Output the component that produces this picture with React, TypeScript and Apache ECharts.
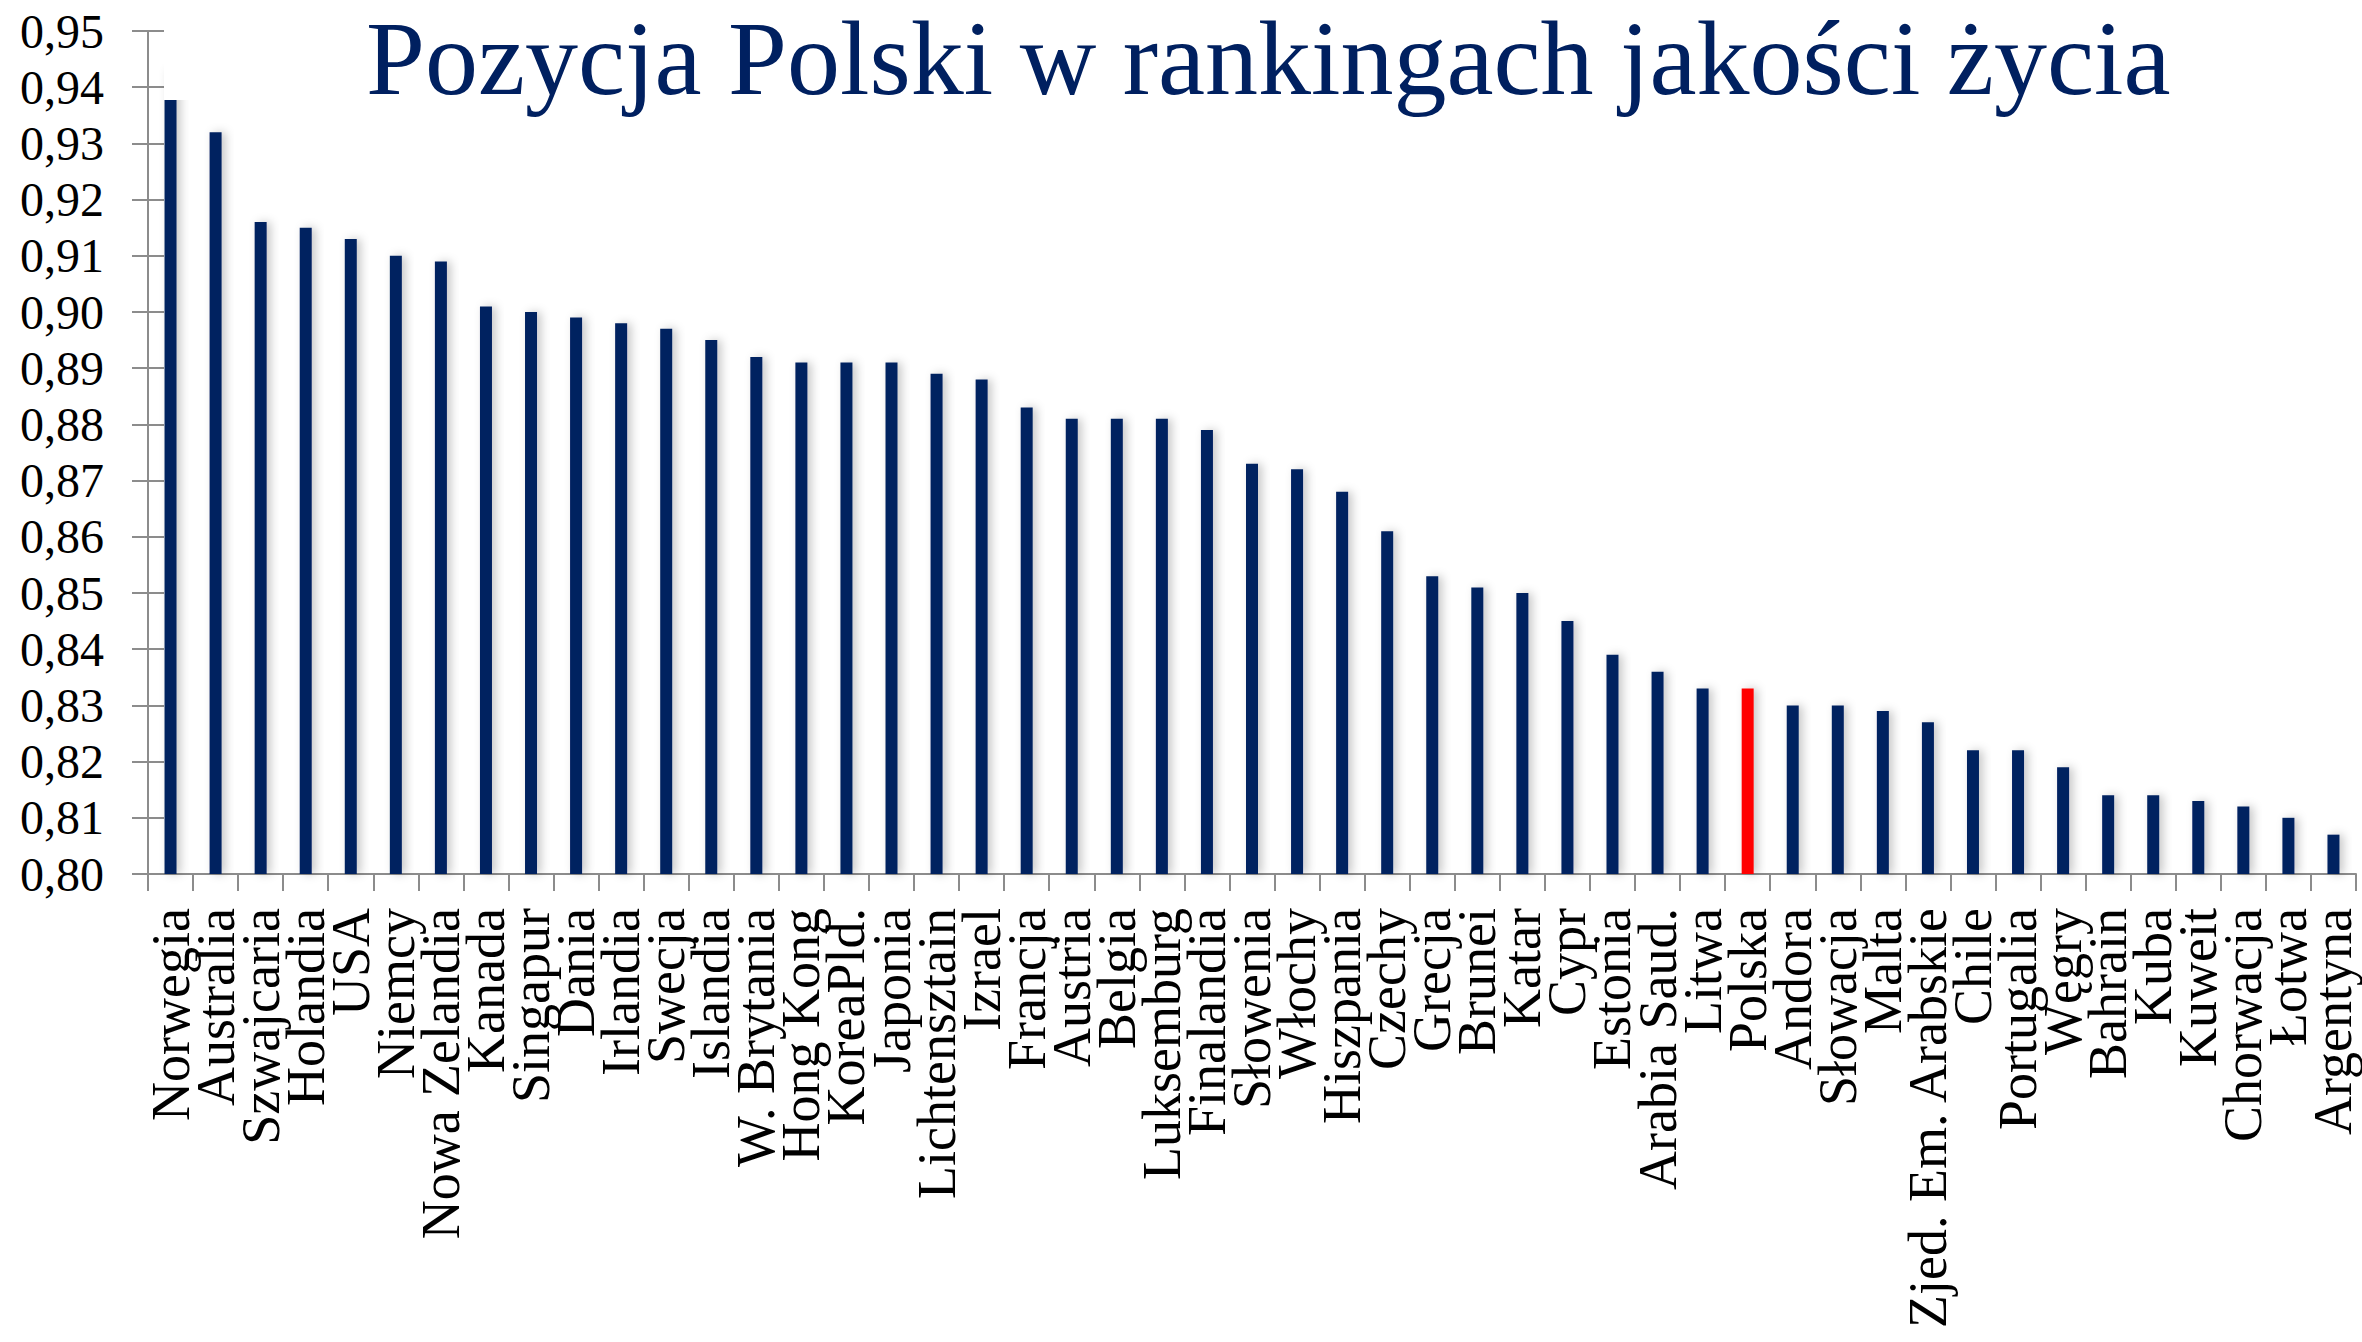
import React, { useEffect, useRef } from "react";
import * as echarts from "echarts";

const TITLE = "Pozycja Polski w rankingach jakości życia";

const categories = [
  "Norwegia", "Australia", "Szwajcaria", "Holandia", "USA", "Niemcy", "Nowa Zelandia",
  "Kanada", "Singapur", "Dania", "Irlandia", "Swecja", "Islandia", "W. Brytania",
  "Hong Kong", "KoreaPld.", "Japonia", "Lichtensztain", "Izrael", "Francja", "Austria",
  "Belgia", "Luksemburg", "Finalandia", "Słowenia", "Włochy", "Hiszpania", "Czechy",
  "Grecja", "Brunei", "Katar", "Cypr", "Estonia", "Arabia Saud.", "Litwa", "Polska",
  "Andora", "Słowacja", "Malta", "Zjed. Em. Arabskie", "Chile", "Portugalia", "Węgry",
  "Bahrain", "Kuba", "Kuweit", "Chorwacja", "Łotwa", "Argentyna",
];

const values = [
  0.943, 0.932, 0.916, 0.915, 0.913, 0.910, 0.909,
  0.901, 0.900, 0.899, 0.898, 0.897, 0.895, 0.892,
  0.891, 0.891, 0.891, 0.889, 0.888, 0.883, 0.881,
  0.881, 0.881, 0.879, 0.873, 0.872, 0.868, 0.861,
  0.853, 0.851, 0.850, 0.845, 0.839, 0.836, 0.833, 0.833,
  0.830, 0.830, 0.829, 0.827, 0.822, 0.822, 0.819,
  0.814, 0.814, 0.813, 0.812, 0.810, 0.807,
];

const highlighted = "Polska";
const yMin = 0.8;
const yMax = 0.95;
const yStep = 0.01;

const NAVY = "#002060";
const RED = "#ff0000";
const AXIS_GRAY = "#8c8c8c";
const FONT = "'Liberation Serif', 'Times New Roman', serif";

export default function App() {
  const ref = useRef<HTMLDivElement>(null);

  useEffect(() => {
    if (!ref.current) return;
    const chart = echarts.init(ref.current, undefined, { renderer: "svg" });
    const data = categories.map((c, i) => ({
      value: values[i],
      itemStyle: { color: c === highlighted ? RED : NAVY },
    }));
    const yFmt = (v: number) => v.toFixed(2).replace(".", ",");
    chart.setOption({
      animation: false,
      backgroundColor: "#ffffff",
      title: {
        text: TITLE,
        left: 361,
        top: 0,
        z: 20,
        textStyle: {
          fontFamily: FONT,
          fontSize: 106,
          fontWeight: "normal",
          color: NAVY,
        },
      },
      graphic: [
        {
          type: "rect",
          z: 10,
          shape: { x: 164, y: 0, width: 2362 - 164, height: 100 },
          style: { fill: "#ffffff" },
        },
      ],
      grid: { left: 148, right: 6, top: 31, bottom: 468, containLabel: false },
      xAxis: {
        type: "category",
        data: categories,
        axisLine: { lineStyle: { color: AXIS_GRAY, width: 2 } },
        axisTick: { show: true, length: 17, lineStyle: { color: AXIS_GRAY, width: 2 } },
        axisLabel: {
          interval: 0,
          rotate: 90,
          margin: 34,
          fontFamily: FONT,
          fontSize: 54,
          color: "#000000",
        },
      },
      yAxis: [
        {
          type: "value",
          min: yMin,
          max: yMax,
          interval: yStep,
          axisLine: { show: true, lineStyle: { color: AXIS_GRAY, width: 2 } },
          axisTick: { show: true, length: 16, lineStyle: { color: AXIS_GRAY, width: 2 } },
          axisLabel: {
            margin: 44,
            fontFamily: FONT,
            fontSize: 48,
            color: "#000000",
            formatter: yFmt,
          },
          splitLine: {
            show: true,
            lineStyle: {
              color: AXIS_GRAY,
              width: 2,
              shadowColor: "rgba(0,0,0,0.25)",
              shadowBlur: 3,
              shadowOffsetY: 2,
            },
          },
        },
        {
          type: "value",
          position: "left",
          min: yMin,
          max: yMax,
          interval: yStep,
          axisLine: { show: false },
          axisTick: { show: true, inside: true, length: 16, lineStyle: { color: AXIS_GRAY, width: 2 } },
          axisLabel: { show: false },
          splitLine: { show: false },
        },
      ],
      series: [
        {
          type: "bar",
          data,
          barWidth: 12,
          yAxisIndex: 0,
          itemStyle: {
            shadowColor: "rgba(0,0,0,0.22)",
            shadowBlur: 10,
            shadowOffsetX: 4,
          },
        },
      ],
    });
    return () => chart.dispose();
  }, []);

  return (
    <div
      ref={ref}
      style={{ position: "fixed", left: 0, top: 0, width: 2362, height: 1342, background: "#fff" }}
    />
  );
}
